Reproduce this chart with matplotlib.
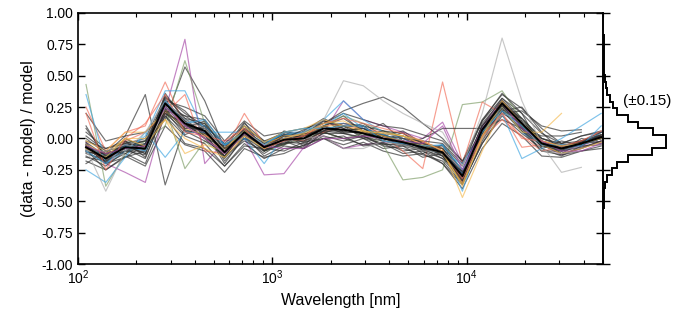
import numpy as np
import matplotlib
matplotlib.use("Agg")
import matplotlib.pyplot as plt

plt.rcParams['font.family'] = ['Liberation Sans', 'DejaVu Sans']
plt.rcParams['mathtext.default'] = 'regular'

nan = np.nan

# wavelength grid [nm]
wave = [110, 139, 175, 222, 281, 355, 449, 568, 718, 908, 1148, 1452, 1837,
        2323, 2938, 3715, 4699, 5943, 7516, 9506, 12020, 15210, 19230,
        24320, 30760, 38900, 49200]

# median residual
median = [-0.07, -0.16, -0.07, -0.08, 0.28, 0.12, 0.06, -0.11, 0.05, -0.07,
          -0.01, 0.0, 0.08, 0.07, 0.04, 0.0, -0.03, -0.07, -0.11, -0.30,
          0.07, 0.28, 0.12, -0.04, -0.08, -0.04, 0.01]

# individual residuals, grey ones
grey_lines = [
    [0.0, -0.12, 0.02, 0.35, -0.37, 0.1, 0.12, -0.15, 0.08, -0.02, 0.04, -0.06, 0.1, 0.18, 0.05, 0.12, -0.02, -0.12, -0.05, -0.22, 0.14, 0.32, 0.2, -0.08, -0.02, -0.06, 0.05],
    [-0.1, -0.15, -0.03, -0.02, 0.15, 0.57, 0.3, -0.08, 0.13, -0.1, 0.06, 0.02, 0.15, 0.05, 0.1, -0.02, 0.05, -0.1, -0.05, -0.26, 0.02, 0.22, 0.25, 0.05, -0.1, 0.0, -0.03],
    [-0.18, -0.25, -0.14, -0.22, 0.1, -0.05, -0.1, -0.27, -0.08, -0.15, -0.12, -0.05, 0.0, -0.08, -0.03, -0.1, -0.14, -0.12, -0.2, -0.4, -0.08, 0.12, 0.02, -0.14, -0.15, -0.1, -0.08],
    [-0.05, -0.2, -0.15, -0.05, 0.32, 0.22, 0.05, -0.12, 0.12, -0.02, -0.05, 0.06, 0.16, 0.08, 0.12, 0.02, 0.06, -0.04, -0.14, -0.34, 0.12, 0.3, 0.15, -0.02, -0.12, -0.03, 0.02],
    [0.05, -0.08, -0.02, -0.15, 0.22, 0.03, 0.1, -0.18, 0.0, -0.12, -0.02, -0.08, 0.05, 0.0, -0.05, -0.03, -0.1, -0.08, -0.16, -0.26, 0.0, 0.22, 0.08, -0.1, -0.1, -0.02, -0.04],
    [-0.12, -0.17, -0.06, -0.02, 0.3, 0.25, 0.18, -0.02, 0.14, 0.02, 0.05, 0.08, 0.12, 0.2, 0.15, 0.1, 0.08, 0.03, -0.02, -0.18, 0.15, 0.35, 0.24, 0.08, -0.04, 0.02, 0.06],
    [-0.2, -0.1, -0.12, -0.2, 0.18, -0.04, -0.08, -0.22, -0.06, -0.08, -0.1, -0.03, 0.0, -0.05, 0.0, -0.08, -0.06, -0.15, -0.12, -0.36, -0.04, 0.18, 0.04, -0.08, -0.14, -0.06, -0.05],
    [0.2, -0.02, 0.02, 0.05, 0.2, 0.12, 0.0, -0.06, 0.02, -0.06, 0.02, 0.04, 0.06, 0.1, 0.0, 0.04, -0.05, -0.02, -0.12, -0.28, 0.05, 0.26, 0.1, 0.0, -0.05, -0.05, 0.03],
    [-0.08, -0.18, -0.05, -0.12, 0.36, 0.14, 0.0, -0.14, 0.06, -0.1, 0.0, -0.02, 0.1, 0.04, 0.06, 0.03, -0.04, -0.06, -0.14, -0.32, 0.06, 0.3, 0.08, -0.06, -0.06, -0.05, 0.02],
    [-0.03, -0.14, -0.1, -0.04, 0.24, 0.06, 0.04, -0.08, 0.0, -0.06, 0.03, 0.03, 0.06, 0.12, 0.1, 0.0, 0.02, -0.06, -0.06, -0.25, 0.1, 0.28, 0.14, -0.04, -0.08, -0.03, 0.03],
    [-0.1, -0.2, -0.12, -0.05, 0.27, 0.18, 0.15, -0.05, 0.04, -0.04, 0.03, 0.05, 0.12, 0.22, 0.28, 0.33, 0.25, 0.12, 0.0, -0.18, 0.05, 0.2, 0.22, 0.1, 0.06, 0.07, nan],
    [-0.06, -0.13, -0.06, -0.09, 0.2, 0.06, -0.02, -0.1, 0.03, -0.09, -0.05, 0.02, 0.05, 0.0, 0.02, -0.05, -0.04, 0.0, 0.08, 0.08, 0.08, 0.15, 0.08, 0.02, 0.02, 0.05, nan],
    [-0.14, -0.22, -0.1, -0.13, 0.3, 0.1, 0.06, -0.2, 0.02, -0.14, -0.06, -0.08, 0.0, 0.02, -0.06, -0.04, -0.12, -0.1, -0.2, -0.37, -0.02, 0.24, 0.06, -0.1, -0.13, -0.1, -0.06],
    [-0.02, -0.08, -0.04, 0.0, 0.33, 0.2, 0.1, -0.04, 0.1, -0.03, 0.05, 0.0, 0.14, 0.1, 0.1, 0.06, 0.0, -0.02, -0.04, -0.2, 0.14, 0.36, 0.2, 0.04, -0.04, 0.02, 0.05],
    [-0.09, -0.25, -0.15, -0.1, 0.18, 0.02, -0.04, -0.22, -0.04, -0.16, -0.08, -0.06, 0.02, -0.02, 0.02, -0.06, -0.08, -0.13, -0.18, -0.36, -0.04, 0.2, 0.12, -0.05, -0.12, -0.08, -0.02],
    [-0.05, -0.16, 0.0, -0.07, 0.28, 0.1, 0.08, -0.12, 0.05, -0.05, -0.02, 0.02, 0.08, 0.05, 0.05, 0.02, -0.02, -0.08, -0.1, -0.3, 0.08, 0.26, 0.14, -0.02, -0.08, -0.03, 0.02],
    [-0.11, -0.12, -0.08, -0.16, 0.24, 0.16, 0.12, -0.08, 0.08, -0.06, 0.03, 0.0, 0.1, 0.06, 0.08, 0.02, 0.0, -0.06, -0.08, -0.29, 0.04, 0.27, 0.16, 0.0, -0.06, -0.02, 0.03],
    [-0.04, -0.19, -0.08, -0.09, 0.31, 0.07, 0.03, -0.16, 0.02, -0.1, -0.03, -0.04, 0.04, 0.04, 0.01, -0.02, -0.05, -0.09, -0.14, -0.33, 0.04, 0.27, 0.09, -0.06, -0.09, -0.05, 0.0],
    [0.08, -0.14, -0.04, -0.06, 0.26, 0.08, 0.14, -0.1, 0.06, -0.04, 0.0, 0.07, 0.14, 0.08, 0.02, 0.06, 0.04, -0.04, -0.1, -0.27, 0.1, 0.32, 0.16, 0.0, -0.04, -0.02, 0.05],
    [-0.15, -0.18, -0.1, -0.1, 0.2, 0.12, 0.0, -0.14, -0.02, -0.1, -0.04, -0.02, 0.06, 0.04, 0.0, -0.04, -0.06, -0.1, -0.16, -0.34, 0.02, 0.22, 0.06, -0.06, -0.1, -0.07, -0.02],
    [0.1, -0.16, -0.06, -0.02, 0.22, 0.18, 0.08, -0.12, 0.04, -0.08, 0.0, 0.02, 0.1, 0.16, 0.06, 0.0, -0.02, -0.08, -0.12, -0.3, 0.05, 0.3, 0.14, -0.03, -0.08, -0.04, 0.0],
    [-0.08, -0.12, -0.08, -0.04, 0.3, 0.14, 0.04, -0.1, 0.07, -0.07, -0.01, 0.0, 0.08, 0.07, 0.04, 0.02, -0.03, -0.06, -0.1, -0.3, 0.07, 0.28, 0.12, -0.04, -0.08, -0.04, 0.01],
    [-0.06, -0.2, -0.02, -0.1, 0.22, 0.08, 0.08, -0.08, 0.02, -0.06, -0.04, 0.04, 0.04, 0.1, 0.04, -0.02, -0.04, -0.04, -0.08, -0.26, 0.1, 0.26, 0.1, -0.02, -0.06, -0.03, 0.02],
    [0.02, -0.1, -0.06, -0.12, 0.34, 0.16, 0.02, -0.14, 0.05, -0.08, 0.02, -0.03, 0.06, 0.06, 0.08, 0.0, -0.05, -0.08, -0.12, -0.32, 0.04, 0.24, 0.1, -0.06, -0.07, -0.05, nan],
]

# individual residuals, coloured ones
color_lines = [
    [-0.03, -0.2, -0.27, -0.35, 0.22, 0.79, -0.2, -0.02, 0.0, -0.29, -0.28, -0.07, 0.05, 0.3, 0.15, 0.1, 0.05, 0.0, 0.13, -0.2, 0.05, 0.3, 0.1, -0.05, -0.13, -0.08, -0.02],
    [-0.1, -0.15, -0.05, -0.1, 0.3, 0.1, 0.05, -0.1, 0.08, -0.05, 0.0, 0.0, 0.02, -0.08, -0.05, -0.03, -0.02, -0.05, -0.08, -0.28, 0.1, 0.3, 0.12, -0.02, -0.1, -0.06, 0.0],
    [0.43, -0.38, -0.12, -0.02, 0.1, 0.62, 0.12, -0.05, 0.05, -0.1, -0.05, 0.05, 0.1, 0.18, 0.12, 0.06, 0.02, -0.03, -0.08, -0.3, 0.05, 0.3, 0.1, -0.05, -0.08, -0.04, 0.0],
    [-0.1, -0.15, 0.0, -0.08, 0.25, -0.24, -0.02, -0.15, 0.1, -0.1, -0.05, 0.0, 0.05, 0.0, 0.04, -0.05, -0.33, -0.31, -0.25, 0.27, 0.29, 0.38, 0.15, -0.02, -0.08, -0.05, 0.0],
    [0.25, -0.1, 0.05, 0.1, 0.45, 0.1, 0.0, -0.1, 0.2, -0.05, 0.02, 0.02, 0.1, 0.12, 0.08, 0.02, -0.1, -0.24, 0.45, -0.2, 0.29, 0.2, -0.07, -0.05, -0.1, -0.05, 0.02],
    [-0.05, -0.2, -0.02, 0.05, 0.2, 0.35, -0.1, -0.12, 0.02, -0.05, 0.0, -0.02, 0.05, 0.1, 0.08, 0.05, 0.0, -0.03, -0.08, -0.35, 0.0, 0.15, 0.02, -0.1, -0.07, -0.02, 0.05],
    [0.35, -0.2, -0.1, 0.02, 0.38, 0.38, 0.05, -0.05, 0.0, -0.2, 0.02, 0.05, 0.1, 0.2, 0.08, 0.03, -0.02, -0.08, -0.05, -0.42, 0.05, 0.2, -0.16, -0.08, 0.0, 0.1, 0.2],
    [-0.25, -0.35, -0.15, 0.05, -0.15, 0.05, 0.05, 0.05, 0.05, -0.03, 0.03, 0.05, 0.15, 0.3, 0.15, 0.05, 0.0, -0.08, -0.12, -0.2, 0.05, 0.25, 0.05, -0.05, -0.1, -0.05, 0.05],
    [-0.05, -0.15, -0.05, -0.05, 0.25, 0.15, 0.1, -0.05, 0.0, -0.05, 0.05, 0.05, 0.12, 0.12, 0.08, 0.03, -0.02, -0.05, -0.1, -0.28, 0.08, 0.25, 0.1, -0.05, -0.08, -0.05, 0.0],
    [-0.05, -0.12, 0.0, 0.0, 0.15, -0.12, -0.05, -0.1, 0.1, -0.03, 0.05, 0.08, 0.15, 0.1, 0.05, 0.05, 0.02, -0.05, -0.08, -0.47, -0.1, 0.25, 0.05, 0.05, 0.2, nan, nan],
    [-0.02, -0.1, 0.05, 0.05, 0.22, 0.08, 0.03, -0.08, 0.06, -0.05, 0.02, 0.03, 0.1, 0.1, 0.06, 0.02, -0.02, -0.06, -0.12, -0.36, 0.0, 0.28, 0.1, -0.05, -0.12, -0.08, -0.03],
    [-0.08, -0.42, -0.1, 0.05, 0.3, 0.15, 0.08, -0.1, 0.02, -0.08, 0.0, 0.05, 0.15, 0.46, 0.42, 0.3, 0.2, 0.12, 0.05, -0.22, 0.2, 0.8, 0.3, -0.05, -0.27, -0.23, nan],
    [-0.1, -0.1, -0.05, -0.1, 0.25, 0.1, 0.0, -0.12, 0.05, -0.05, -0.02, 0.0, 0.02, -0.08, -0.08, -0.02, -0.05, -0.1, -0.1, -0.25, 0.0, 0.2, 0.15, -0.1, -0.12, -0.1, nan],
    [0.2, -0.25, 0.0, 0.12, 0.35, 0.05, 0.02, -0.02, 0.08, -0.08, -0.02, 0.02, 0.12, 0.16, 0.12, 0.08, 0.04, -0.02, -0.1, -0.32, 0.02, 0.2, 0.0, -0.02, -0.06, -0.02, 0.06],
    [-0.1, -0.2, -0.06, -0.1, 0.3, 0.12, 0.15, -0.05, 0.05, -0.05, 0.05, 0.08, 0.08, 0.1, 0.1, -0.02, -0.04, -0.06, -0.05, -0.25, 0.05, 0.22, 0.1, -0.05, -0.05, -0.06, 0.1],
    [-0.08, -0.15, 0.0, -0.06, 0.15, 0.0, -0.08, -0.15, 0.02, -0.08, 0.0, 0.04, 0.12, 0.14, 0.06, 0.04, 0.02, -0.02, -0.1, -0.38, 0.02, 0.3, 0.12, -0.02, -0.06, -0.04, 0.0],
    [-0.06, -0.12, -0.08, -0.06, 0.25, 0.1, 0.0, -0.12, 0.04, -0.06, -0.08, -0.08, 0.0, 0.0, 0.02, 0.0, -0.02, -0.04, 0.1, -0.25, 0.08, 0.28, 0.08, -0.02, -0.1, -0.1, -0.04],
]
line_colors = ['#a442a4', '#a442a4', '#7a9a62', '#7a9a62', '#f26a55', '#f26a55',
               '#3aa3e0', '#3aa3e0', '#1f6fa8', '#f4b84a', '#f4b84a', '#aaaaaa', '#aaaaaa',
               '#f26a55', '#3aa3e0', '#f4b84a', '#a442a4']

# histogram of all residuals
hist_edges = [-0.555, -0.502, -0.449, -0.396, -0.343, -0.29, -0.237, -0.184, -0.131,
              -0.078, -0.025, 0.028, 0.081, 0.134, 0.187, 0.24, 0.293, 0.346, 0.399,
              0.452, 0.505, 0.558, 0.611, 0.664, 0.717, 0.770, 0.823]
hist_counts = [1, 2, 4, 8, 14, 35, 57, 102, 200, 260, 258, 204, 143, 102, 56, 41,
               29, 15, 10, 6, 3, 2, 1, 1, 1, 1]

fig = plt.figure(figsize=(6.74, 3.2), dpi=100)
ax = fig.add_axes([0.1157, 0.175, 0.7795, 0.7845])
axh = fig.add_axes([0.8952, 0.175, 0.1048, 0.7845], sharey=ax)

# interleave grey and colour lines
gi = 0
for i, vals in enumerate(color_lines):
    for _ in range(2):
        if gi < len(grey_lines):
            ax.plot(wave, grey_lines[gi], color='#2e2e2e', lw=0.85, alpha=0.68)
            gi += 1
    ax.plot(wave, vals, color=line_colors[i], lw=0.85, alpha=0.65)
while gi < len(grey_lines):
    ax.plot(wave, grey_lines[gi], color='#2e2e2e', lw=0.85, alpha=0.68)
    gi += 1

ax.plot(wave, median, color='black', lw=1.4)

ax.set_xscale('log')
ax.set_xlim(100, 50500)
ax.set_ylim(-1, 1)
ax.set_yticks(np.arange(-1, 1.01, 0.25))
ax.yaxis.set_major_formatter(matplotlib.ticker.FormatStrFormatter('%.2f'))
ax.tick_params(which='both', direction='in', top=True, right=True, labelsize=10)
ax.tick_params(which='major', length=5, width=1)
ax.tick_params(which='minor', length=3, width=0.8)
ax.set_xlabel('Wavelength [nm]', fontsize=11.5)
ax.set_ylabel('(data - model) / model', fontsize=11.5)
for s in ax.spines.values():
    s.set_linewidth(1.2)

axh.stairs(hist_counts, hist_edges, orientation='horizontal', color='black', lw=1.4)
axh.set_xlim(0, 292)
for side in ['top', 'right', 'bottom']:
    axh.spines[side].set_visible(False)
axh.spines['left'].set_linewidth(1.2)
axh.set_xticks([])
axh.tick_params(axis='y', direction='in', length=5, width=1, labelleft=False)
axh.patch.set_alpha(0)
axh.text(180, 0.30, '(±0.15)', ha='center', va='center', fontsize=11)

fig.savefig('out.png', dpi=100)
